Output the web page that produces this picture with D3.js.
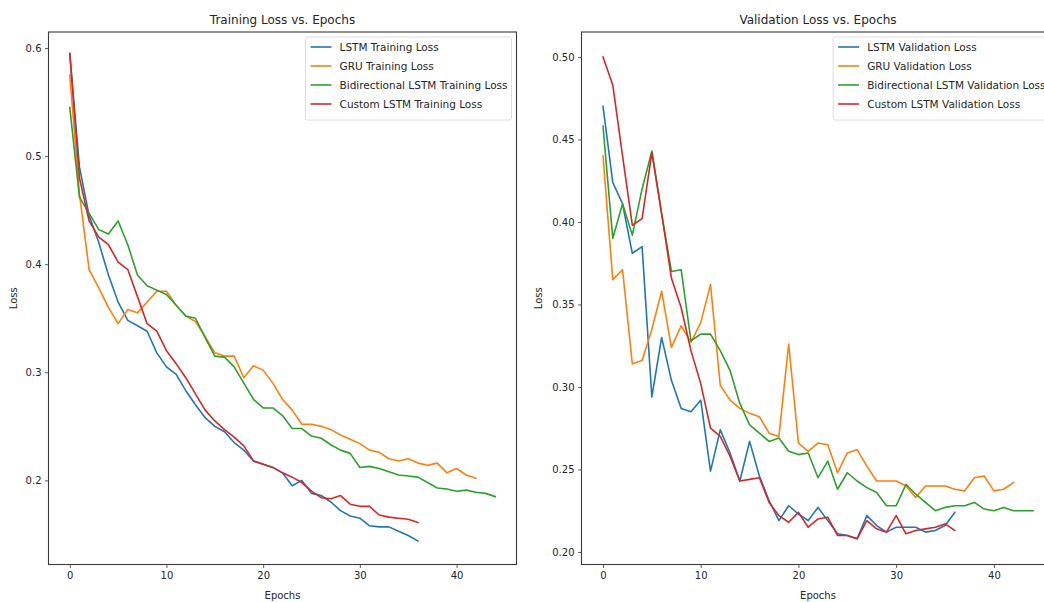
<!DOCTYPE html>
<html><head><meta charset="utf-8">
<script src="https://cdn.jsdelivr.net/npm/d3@7"></script>
<style>
body{margin:0;background:#fff}
svg{display:block}
text{font-family:"DejaVu Sans",sans-serif;fill:#262626}
</style>
</head><body>
<svg id="c" width="1044" height="602"></svg>
<script>
// ---------- data ----------
const lstmTrain = [0.595,0.49,0.445,0.42,0.39,0.365,0.348,0.343,0.338,0.318,0.305,0.298,0.283,0.27,0.258,0.25,0.245,0.235,0.228,0.218,0.215,0.212,0.207,0.195,0.2,0.188,0.186,0.18,0.172,0.167,0.165,0.158,0.157,0.157,0.153,0.149,0.144];
const gruTrain = [0.575,0.465,0.395,0.378,0.36,0.345,0.358,0.355,0.365,0.375,0.375,0.362,0.352,0.347,0.333,0.318,0.315,0.315,0.295,0.306,0.302,0.29,0.275,0.265,0.252,0.252,0.25,0.247,0.242,0.238,0.234,0.228,0.226,0.22,0.218,0.22,0.216,0.214,0.216,0.207,0.211,0.205,0.202];
const biTrain = [0.545,0.462,0.447,0.432,0.428,0.44,0.418,0.39,0.38,0.376,0.372,0.362,0.352,0.35,0.332,0.315,0.314,0.305,0.29,0.275,0.267,0.267,0.26,0.248,0.248,0.241,0.239,0.233,0.228,0.225,0.212,0.213,0.211,0.208,0.205,0.204,0.203,0.198,0.193,0.192,0.19,0.191,0.189,0.188,0.185];
const customTrain = [0.595,0.48,0.44,0.425,0.418,0.402,0.395,0.37,0.345,0.338,0.32,0.308,0.295,0.28,0.265,0.255,0.247,0.24,0.232,0.218,0.215,0.212,0.207,0.203,0.198,0.19,0.184,0.183,0.186,0.178,0.176,0.176,0.168,0.166,0.165,0.164,0.161];

const lstmVal = [0.47,0.424,0.411,0.381,0.385,0.294,0.33,0.304,0.287,0.285,0.292,0.249,0.274,0.26,0.243,0.267,0.246,0.231,0.219,0.228,0.223,0.219,0.227,0.219,0.211,0.21,0.208,0.222,0.216,0.212,0.215,0.215,0.215,0.212,0.213,0.216,0.224];
const gruVal = [0.44,0.365,0.371,0.314,0.316,0.335,0.358,0.324,0.337,0.327,0.339,0.362,0.301,0.292,0.287,0.284,0.282,0.272,0.27,0.326,0.266,0.261,0.266,0.265,0.248,0.26,0.262,0.252,0.243,0.243,0.243,0.24,0.233,0.24,0.24,0.24,0.238,0.237,0.245,0.246,0.237,0.238,0.242];
const biVal = [0.458,0.39,0.411,0.392,0.42,0.443,0.405,0.37,0.371,0.328,0.332,0.332,0.322,0.31,0.29,0.277,0.272,0.267,0.269,0.261,0.259,0.26,0.245,0.255,0.238,0.248,0.243,0.239,0.236,0.228,0.228,0.241,0.235,0.23,0.225,0.227,0.228,0.228,0.23,0.226,0.225,0.227,0.225,0.225,0.225];
const customVal = [0.5,0.483,0.44,0.398,0.402,0.442,0.405,0.366,0.348,0.322,0.302,0.275,0.27,0.258,0.243,0.244,0.245,0.23,0.222,0.218,0.224,0.215,0.22,0.221,0.21,0.21,0.208,0.219,0.214,0.212,0.222,0.211,0.213,0.214,0.215,0.217,0.213];

const trainLabels = ["LSTM Training Loss","GRU Training Loss","Bidirectional LSTM Training Loss","Custom LSTM Training Loss"];
const valLabels = ["LSTM Validation Loss","GRU Validation Loss","Bidirectional LSTM Validation Loss","Custom LSTM Validation Loss"];
const xTicks = [0,10,20,30,40];
const trainYTicks = [0.2,0.3,0.4,0.5,0.6];
const valYTicks = [0.20,0.25,0.30,0.35,0.40,0.45,0.50];
const colors = ["#1f77b4","#ff7f0e","#2ca02c","#d62728"];

// ---------- drawing ----------
const svg = d3.select("#c");

function panel(cfg){
  const g = svg.append("g");
  const x = d3.scaleLinear().domain([-2.2,46.2]).range([cfg.left,cfg.right]);
  const y = d3.scaleLinear().domain(cfg.yDomain).range([cfg.bottom,cfg.top]);

  const line = d3.line().x((d,i)=>x(i)).y(d=>y(d));
  cfg.series.forEach((s,k)=>{
    g.append("path").datum(s).attr("d",line)
      .attr("fill","none").attr("stroke",colors[k]).attr("stroke-width",1.6)
      .attr("stroke-linejoin","round").attr("stroke-linecap","square");
  });

  const ax = g.append("g").attr("transform",`translate(0,${cfg.bottom})`)
    .call(d3.axisBottom(x).tickValues(xTicks).tickFormat(d3.format("d")).tickSize(3.5).tickPadding(3.5));
  const ay = g.append("g").attr("transform",`translate(${cfg.left},0)`)
    .call(d3.axisLeft(y).tickValues(cfg.yTicks).tickFormat(d3.format(cfg.fmt)).tickSize(3.5).tickPadding(3.5));
  [ax,ay].forEach(a=>{
    a.select(".domain").remove();
    a.selectAll("line").attr("stroke","#333").attr("stroke-width",0.8);
    a.selectAll("text").attr("font-size",10).attr("font-family","DejaVu Sans").attr("fill","#262626");
  });

  g.append("rect").attr("x",cfg.left).attr("y",cfg.top)
    .attr("width",cfg.right-cfg.left).attr("height",cfg.bottom-cfg.top)
    .attr("fill","none").attr("stroke","#3a3a3a").attr("stroke-width",1.1);

  const cx = (cfg.left+cfg.right)/2;
  g.append("text").attr("x",cx).attr("y",cfg.top-8).attr("text-anchor","middle")
    .attr("font-size",12).text(cfg.title);
  g.append("text").attr("x",cx).attr("y",599).attr("text-anchor","middle")
    .attr("font-size",10).text("Epochs");
  g.append("text").attr("transform",`translate(${cfg.ylabX},${(cfg.top+cfg.bottom)/2}) rotate(-90)`)
    .attr("text-anchor","middle").attr("font-size",10).text("Loss");

  // legend (upper right)
  const fs = 10.5;
  const lg = g.append("g");
  const box = lg.append("rect");
  const rowH = 19;
  const texts = cfg.labels.map(lab=>
    lg.append("text").attr("font-size",fs).attr("dy","0.35em").text(lab));
  const maxW = d3.max(texts,t=>t.node().getComputedTextLength());
  const bw = 4+20+9+maxW+5;
  const bx = cfg.right-5-bw, by = cfg.top+5;
  const bh = 7 + rowH*cfg.labels.length;
  box.attr("x",bx).attr("y",by).attr("width",bw).attr("height",bh).attr("rx",2)
    .attr("fill","#fff").attr("fill-opacity",0.8).attr("stroke","#d6d6d6").attr("stroke-width",0.8);
  cfg.labels.forEach((lab,k)=>{
    const yy = by + 10 + k*rowH;
    lg.append("line").attr("x1",bx+5).attr("x2",bx+26).attr("y1",yy).attr("y2",yy)
      .attr("stroke",colors[k]).attr("stroke-width",1.6);
    texts[k].attr("x",bx+34).attr("y",yy);
  });
}

panel({left:48.5,right:516.5,top:32,bottom:564.5,yDomain:[0.1222,0.6148],
  yTicks:trainYTicks,fmt:".1f",series:[lstmTrain,gruTrain,biTrain,customTrain],
  labels:trainLabels,title:"Training Loss vs. Epochs",ylabX:17});
panel({left:581.5,right:1054.5,top:32,bottom:564.5,yDomain:[0.1924,0.5151],
  yTicks:valYTicks,fmt:".2f",series:[lstmVal,gruVal,biVal,customVal],
  labels:valLabels,title:"Validation Loss vs. Epochs",ylabX:542});
</script>
</body></html>
